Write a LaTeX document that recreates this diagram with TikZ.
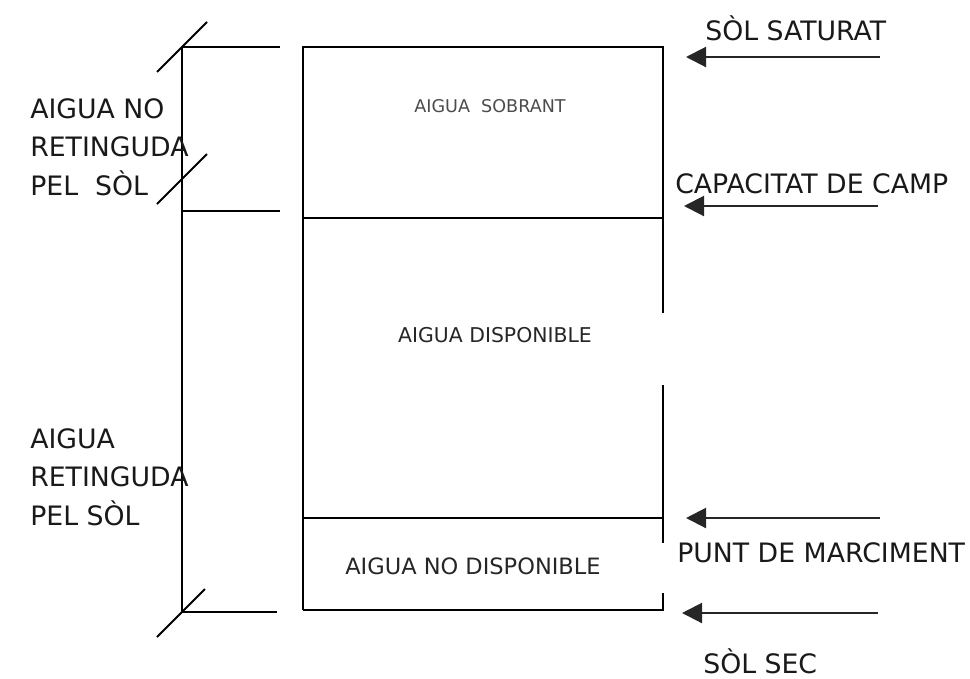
\documentclass[tikz,border=0pt]{standalone}
\usepackage{fontspec}
\setmainfont{DejaVu Sans}
\usetikzlibrary{arrows.meta, positioning}

\begin{document}
\begin{tikzpicture}[
    x=0.025cm, y=-0.025cm,
    >={Triangle[length=0.5cm, width=0.5cm]},
    line/.style={line width=1.3pt, black},
    arrow/.style={->, line width=1.5pt, black!85},
    biglabel/.style={font=\fontsize{19}{27.5}\selectfont, text=black!90, inner sep=0pt},
    sidelabel/.style={biglabel, align=left, anchor=north west},
    zonelabel/.style={font=\fontsize{15}{18}\selectfont, text=black!85, inner sep=0pt, anchor=base},
]

\useasboundingbox (0,0) rectangle (970,678);

% === Box with the three zones ===

\coordinate (box-tl) at (303,47);
\coordinate (box-tr) at (663,47);
\coordinate (cc-l) at (303,218);
\coordinate (cc-r) at (663,218);
\coordinate (pm-l) at (303,518);
\coordinate (pm-r) at (663,518);
\coordinate (box-bl) at (303,610);
\coordinate (box-br) at (663,610);

% gaps in the right side
\coordinate (gap1-top) at (663,313);
\coordinate (gap1-bot) at (663,385);
\coordinate (gap2-top) at (663,543);
\coordinate (gap2-bot) at (663,593);

\draw[line] (box-bl) -- (box-tl) -- (box-tr) -- (gap1-top);
\draw[line] (gap1-bot) -- (gap2-top);
\draw[line] (gap2-bot) -- (box-br) -- (box-bl);
\draw[line] (cc-l) -- (cc-r);
\draw[line] (pm-l) -- (pm-r);

\node[zonelabel, font=\fontsize{12.5}{14}\selectfont, text=black!70] (sobrant) at (490,112) {AIGUA\ \ SOBRANT};
\node[zonelabel, font=\fontsize{14.5}{17}\selectfont] (disponible) at (495,342) {AIGUA DISPONIBLE};
\node[zonelabel, font=\fontsize{16}{19}\selectfont] (no-disponible) at (473,574) {AIGUA NO DISPONIBLE};

% === Left scale ===

\coordinate (ax-top) at (182,47);
\coordinate (ax-mid) at (182,211);
\coordinate (ax-bot) at (182,612);
\coordinate (ext-top) at (280,47);
\coordinate (ext-mid) at (280,211);
\coordinate (ext-bot) at (277,612);
\coordinate (ax-slash) at (182,179);

\draw[line] (ax-top) -- (ax-bot);
\draw[line] (ax-top) -- (ext-top);
\draw[line] (ax-mid) -- (ext-mid);
\draw[line] (ax-bot) -- (ext-bot);

% slash marks
\draw[line] (ax-top) ++(-25,25) -- ++(50,-50);
\draw[line] (ax-slash) ++(-25,25) -- ++(50,-50);
\draw[line] (ax-bot) ++(-25,25) -- ++(48,-48);

\node[sidelabel] (no-retinguda) at (30,98) {AIGUA NO\\RETINGUDA\\PEL\ \ SÒL};
\node[sidelabel] (retinguda) at (30,428) {AIGUA\\RETINGUDA\\PEL SÒL};

% === Right arrows ===

\coordinate (sat-tail) at (880,57);
\coordinate (sat-head) at (686,57);
\coordinate (cc-tail) at (878,206);
\coordinate (cc-head) at (684,206);
\coordinate (pm-tail) at (880,518);
\coordinate (pm-head) at (686,518);
\coordinate (sec-tail) at (878,613);
\coordinate (sec-head) at (682,613);

\draw[arrow] (sat-tail) -- (sat-head);
\draw[arrow] (cc-tail) -- (cc-head);
\draw[arrow] (pm-tail) -- (pm-head);
\draw[arrow] (sec-tail) -- (sec-head);

\node[biglabel, anchor=base west] (saturat) at (705,40) {SÒL SATURAT};
\node[biglabel, anchor=base west] (capacitat) at (675,193) {CAPACITAT DE CAMP};
\node[biglabel, anchor=base west] (marciment) at (677,562) {PUNT DE MARCIMENT};
\node[biglabel, anchor=base west] (sec) at (703,673) {SÒL SEC};

\end{tikzpicture}
\end{document}
